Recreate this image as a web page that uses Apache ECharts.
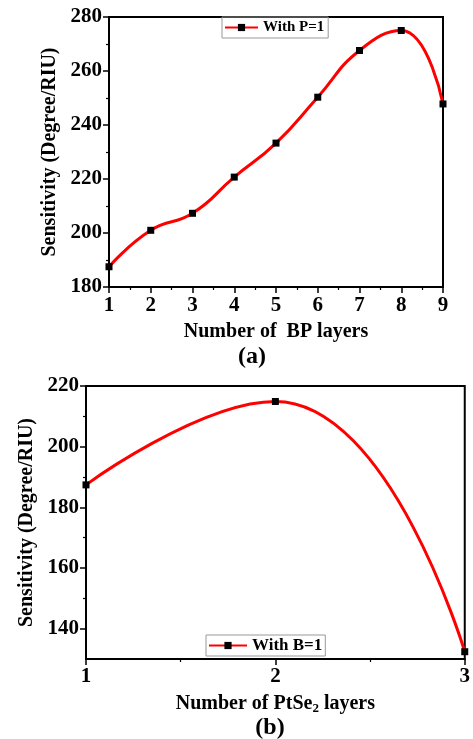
<!DOCTYPE html>
<html>
<head>
<meta charset="utf-8">
<script src="https://cdn.jsdelivr.net/npm/echarts@6/dist/echarts.min.js"></script>
<style>
  html, body { margin: 0; padding: 0; background: #fff; }
  #chart { width: 473px; height: 739px; }
</style>
</head>
<body>
<div id="chart"></div>
<script>
// Panel (a): sensitivity versus number of BP layers (P = 1)
const bpLayers = [1, 2, 3, 4, 5, 6, 7, 8, 9];
const sensBP = [187.5, 201.0, 207.3, 220.7, 233.3, 250.3, 267.6, 275.0, 247.8];

// Panel (b): sensitivity versus number of PtSe2 layers (B = 1)
const ptseLayers = [1, 2, 3];
const sensPtSe = [187.4, 214.9, 132.4];

const yTicksB = [140, 160, 180, 200, 220];
const yMinorB = [150, 170, 190, 210];

const FONT = '"Liberation Serif", "Times New Roman", serif';
const BLACK = '#000';

function pairs(xs, ys) { return xs.map((x, i) => [x, ys[i]]); }

const labelStyle = { color: BLACK, fontFamily: FONT, fontWeight: 'bold', fontSize: 21 };
const titleStyle = { color: BLACK, fontFamily: FONT, fontWeight: 'bold', fontSize: 20 };

function baseAxis(extra) {
  return Object.assign({
    type: 'value',
    axisLine: { show: true, onZero: false, lineStyle: { color: BLACK, width: 2 } },
    axisTick: { show: true, length: 6, lineStyle: { color: BLACK, width: 1.5 } },
    minorTick: { show: true, splitNumber: 2, length: 3, lineStyle: { color: BLACK, width: 1.2 } },
    splitLine: { show: false },
    axisLabel: Object.assign({ margin: 7 }, labelStyle)
  }, extra);
}

const chart = echarts.init(document.getElementById('chart'), null, { renderer: 'canvas' });

chart.setOption({
  animation: false,
  backgroundColor: '#fff',
  grid: [
    { left: 109, top: 17, width: 334, height: 270, show: true, borderColor: BLACK, borderWidth: 2, backgroundColor: 'transparent' },
    { left: 86, top: 386, width: 380, height: 273, show: true, borderColor: BLACK, borderWidth: 2, backgroundColor: 'transparent' }
  ],
  xAxis: [
    baseAxis({
      gridIndex: 0, min: 1, max: 9, interval: 1,
      axisLabel: Object.assign({ margin: 8 }, labelStyle),
      name: 'Number of  BP layers', nameLocation: 'middle', nameGap: 35,
      nameTextStyle: titleStyle
    }),
    baseAxis({
      gridIndex: 1, min: 1, max: 3, interval: 1,
      name: 'Number of PtSe{sub|2} layers', nameLocation: 'middle', nameGap: 33,
      nameTextStyle: Object.assign({}, titleStyle, {
        rich: { sub: { fontFamily: FONT, fontWeight: 'bold', fontSize: 13, color: BLACK, padding: [10, 0, 0, 0] } }
      })
    })
  ],
  yAxis: [
    baseAxis({
      gridIndex: 0, min: 180, max: 280, interval: 20,
      name: 'Sensitivity (Degree/RIU)', nameLocation: 'middle', nameGap: 44,
      nameTextStyle: titleStyle
    }),
    baseAxis({
      gridIndex: 1, min: 130, max: 220,
      minorTick: { show: false },
      axisTick: { show: true, length: 6, customValues: yTicksB, lineStyle: { color: BLACK, width: 1.5 } },
      axisLabel: Object.assign({ margin: 7, customValues: yTicksB }, labelStyle),
      name: 'Sensitivity (Degree/RIU)', nameLocation: 'middle', nameGap: 49,
      nameTextStyle: titleStyle
    }),
    // minor ticks for the lower panel's y axis
    {
      type: 'value', gridIndex: 1, min: 130, max: 220, position: 'left',
      axisLine: { show: false },
      axisTick: { show: true, length: 3, customValues: yMinorB, lineStyle: { color: BLACK, width: 1.2 } },
      axisLabel: { show: false },
      splitLine: { show: false }
    }
  ],
  legend: [
    {
      data: ['With P=1'], left: 222, top: 17,
      itemWidth: 33, itemHeight: 9, itemGap: 5,
      padding: [3, 4, 3, 2],
      borderColor: '#999', borderWidth: 1,
      textStyle: { color: BLACK, fontFamily: FONT, fontWeight: 'bold', fontSize: 15 }
    },
    {
      data: ['With B=1'], left: 206, top: 635,
      itemWidth: 38, itemHeight: 9, itemGap: 5,
      padding: [2, 3, 2, 2],
      borderColor: '#999', borderWidth: 1,
      textStyle: { color: BLACK, fontFamily: FONT, fontWeight: 'bold', fontSize: 17 }
    }
  ],
  graphic: [
    { type: 'text', x: 252, y: 357, style: { text: '(a)', font: 'bold 24px ' + FONT, fill: BLACK, align: 'center', verticalAlign: 'middle' } },
    { type: 'text', x: 270, y: 728, style: { text: '(b)', font: 'bold 24px ' + FONT, fill: BLACK, align: 'center', verticalAlign: 'middle' } }
  ],
  series: [
    {
      name: 'With P=1', type: 'line', xAxisIndex: 0, yAxisIndex: 0,
      data: pairs(bpLayers, sensBP), smooth: 0.5,
      symbol: 'rect', symbolSize: 7,
      lineStyle: { color: '#ff0000', width: 3 },
      itemStyle: { color: BLACK },
      clip: true
    },
    {
      name: 'With B=1', type: 'line', xAxisIndex: 1, yAxisIndex: 1,
      data: pairs(ptseLayers, sensPtSe), smooth: 0.5,
      symbol: 'rect', symbolSize: 7,
      lineStyle: { color: '#ff0000', width: 3 },
      itemStyle: { color: BLACK },
      clip: true
    }
  ]
});
</script>
</body>
</html>
